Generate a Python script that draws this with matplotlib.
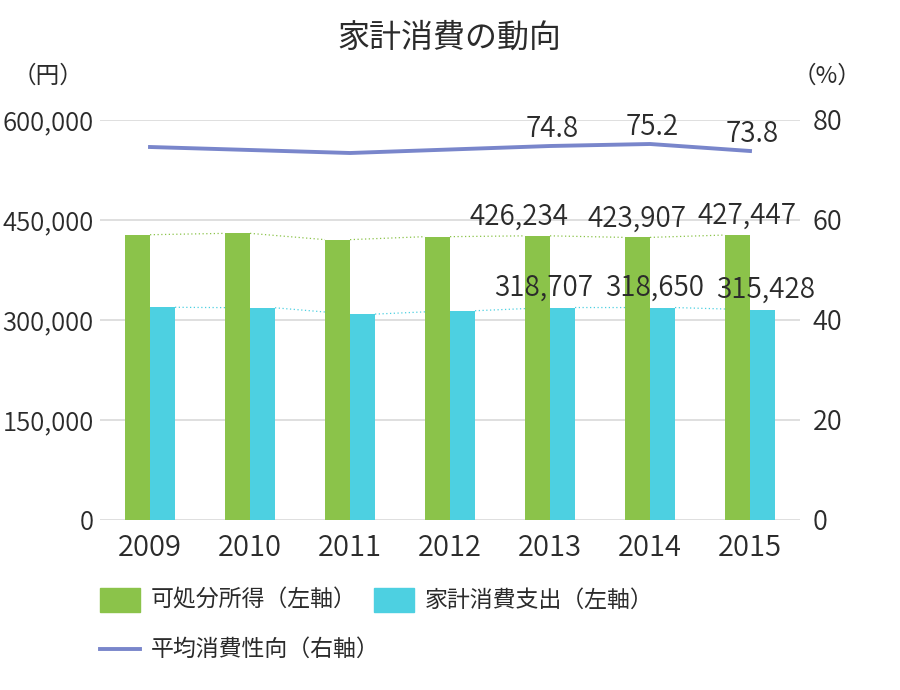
import matplotlib
matplotlib.use("Agg")
import matplotlib.pyplot as plt
from matplotlib.patches import Rectangle
from matplotlib.lines import Line2D
import numpy as np

plt.rcParams['font.family'] = ['Noto Sans CJK JP', 'DejaVu Sans']

years = ['2009', '2010', '2011', '2012', '2013', '2014', '2015']
income = [427912, 429967, 420538, 425005, 426234, 423907, 427447]
spending = [319060, 318315, 308838, 313874, 318707, 318650, 315428]
propensity = [74.6, 74.0, 73.4, 74.1, 74.8, 75.2, 73.8]

income_labeled = [4, 5, 6]
spending_labeled = [4, 5, 6]
propensity_labeled = [4, 5, 6]

name_income = '可処分所得（左軸）'
name_spending = '家計消費支出（左軸）'
name_propensity = '平均消費性向（右軸）'
title = '家計消費の動向'

GREEN = '#8BC34A'
CYAN = '#4DD0E1'
LINE = '#7986CB'
TEXT = '#2b2b2b'
GRID = '#d9d9d9'
NUMW = 350

W, H = 900, 690
fig = plt.figure(figsize=(9, 6.9), dpi=100)
ax = fig.add_axes([100 / W, 170 / H, 700 / W, 400 / H])
ax2 = ax.twinx()

x = np.arange(len(years))
bw = 0.25
ax.bar(x - bw / 2, income, width=bw, color=GREEN, zorder=3)
ax.bar(x + bw / 2, spending, width=bw, color=CYAN, zorder=3)

# dotted series connectors between bar tops
for i in range(len(years) - 1):
    ax.plot([x[i], x[i + 1] - bw], [income[i], income[i + 1]], ls=(0, (1, 2)),
            color=GREEN, lw=0.9, zorder=2)
    ax.plot([x[i] + bw, x[i + 1]], [spending[i], spending[i + 1]], ls=(0, (1, 2)),
            color=CYAN, lw=0.9, zorder=2)

ax.set_xlim(-0.5, len(years) - 0.5)
ax.set_ylim(0, 600000)
yt = [0, 150000, 300000, 450000, 600000]
ax.set_yticks(yt)
ax.set_yticklabels([f'{v:,}' for v in yt], fontweight=NUMW)
ax.set_xticks(x)
ax.set_xticklabels(years, fontweight=NUMW)
ax.grid(axis='y', color=GRID, lw=1.2, zorder=0)
ax.set_axisbelow(True)
for s in ax.spines.values():
    s.set_visible(False)
ax.tick_params(axis='y', length=0, pad=4.5, labelsize=18.5, labelcolor=TEXT)
ax.tick_params(axis='x', length=0, pad=9, labelsize=21, labelcolor=TEXT)

ax2.plot(x, propensity, color=LINE, lw=2.8, zorder=4)
ax2.set_ylim(0, 80)
rt = [0, 20, 40, 60, 80]
ax2.set_yticks(rt)
ax2.set_yticklabels([str(v) for v in rt], fontweight=NUMW)
for s in ax2.spines.values():
    s.set_visible(False)
ax2.tick_params(axis='y', length=0, pad=9, labelsize=19.5, labelcolor=TEXT)

# data labels
inc_dx = {4: -18, 5: 0, 6: 9}
sp_dx = {4: -19, 5: -7.5, 6: 3.5}
for i in income_labeled:
    ax.annotate(f'{income[i]:,}', (x[i] - bw / 2, income[i]), xytext=(inc_dx[i] * 0.72, 8),
                textcoords='offset points', ha='center', va='baseline', fontsize=20,
                fontweight=NUMW, color=TEXT, zorder=5)
for i in spending_labeled:
    ax.annotate(f'{spending[i]:,}', (x[i] + bw / 2, spending[i]), xytext=(sp_dx[i] * 0.72, 8.5),
                textcoords='offset points', ha='center', va='baseline', fontsize=20,
                fontweight=NUMW, color=TEXT, zorder=5)
for i in propensity_labeled:
    ax2.annotate(f'{propensity[i]:.1f}', (x[i], propensity[i]), xytext=(1.5, 6.5),
                 textcoords='offset points', ha='center', va='baseline', fontsize=20,
                 fontweight=NUMW, color=TEXT, zorder=5)

# title and axis units
fig.text(449 / W, 1 - 38 / H, title, ha='center', va='center', fontsize=23, color=TEXT)
fig.text(48 / W, 1 - 76 / H, '（円）', ha='center', va='center', fontsize=17, color=TEXT)
fig.text(827 / W, 1 - 76 / H, '（%）', ha='center', va='center', fontsize=17, color=TEXT)

# legend (manual)
def px(xp, yp):
    return xp / W, 1 - yp / H

fig.patches.append(Rectangle(px(100, 612), 40 / W, 24 / H, transform=fig.transFigure,
                             color=GREEN, figure=fig))
fig.text(*px(151, 600), name_income, ha='left', va='center', fontsize=16.5, color=TEXT)
fig.patches.append(Rectangle(px(374, 612), 40 / W, 24 / H, transform=fig.transFigure,
                             color=CYAN, figure=fig))
fig.text(*px(425, 600), name_spending, ha='left', va='center', fontsize=16.5, color=TEXT)
fig.lines.append(Line2D([100 / W, 140 / W], [1 - 649 / H, 1 - 649 / H], transform=fig.transFigure,
                        color=LINE, lw=2.8, figure=fig))
fig.text(*px(151, 649), name_propensity, ha='left', va='center', fontsize=16.5, color=TEXT)

fig.savefig('out.png', dpi=100, facecolor='white')
